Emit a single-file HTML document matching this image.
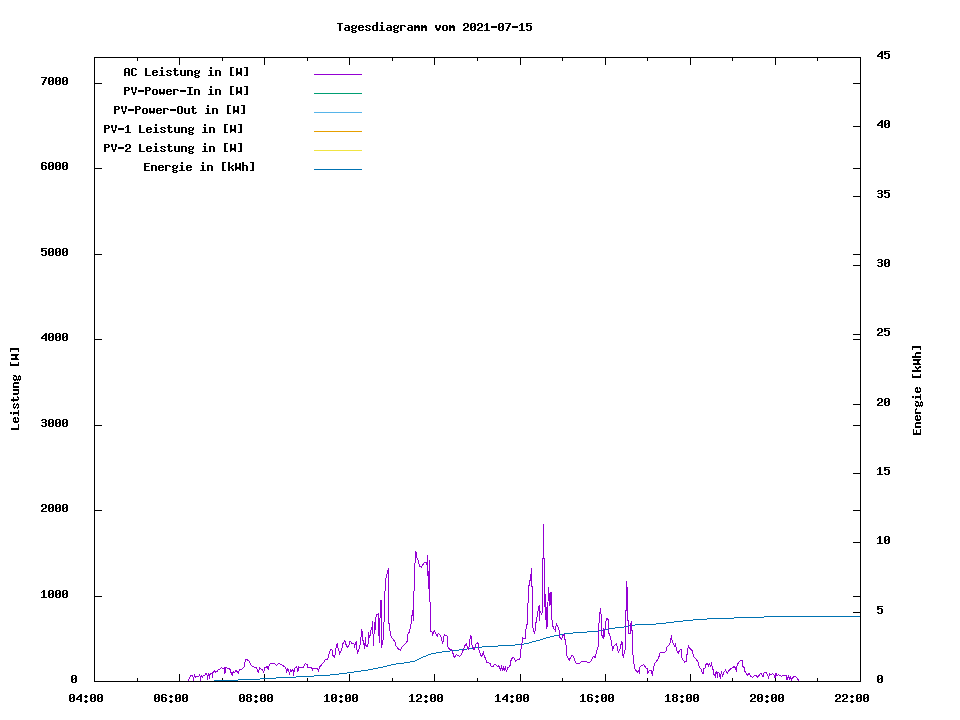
<!DOCTYPE html>
<html><head><meta charset="utf-8"><style>
html,body{margin:0;padding:0;background:#fff;overflow:hidden;}
svg{display:block;}
</style></head><body>
<svg width="960" height="720" viewBox="0 0 960 720" shape-rendering="crispEdges">
<defs>
<path id="g45" d="M1 4h6v1h-6zM1 5h6v1h-6z"/>
<path id="g48" d="M2 1h4v1h-4zM1 2h2v1h-2zM5 2h2v1h-2zM1 3h2v1h-2zM5 3h2v1h-2zM1 4h2v1h-2zM4 4h3v1h-3zM1 5h3v1h-3zM5 5h2v1h-2zM1 6h2v1h-2zM5 6h2v1h-2zM1 7h2v1h-2zM5 7h2v1h-2zM2 8h4v1h-4z"/>
<path id="g49" d="M3 1h2v1h-2zM2 2h3v1h-3zM1 3h1v1h-1zM3 3h2v1h-2zM3 4h2v1h-2zM3 5h2v1h-2zM3 6h2v1h-2zM3 7h2v1h-2zM1 8h6v1h-6z"/>
<path id="g50" d="M2 1h4v1h-4zM1 2h2v1h-2zM5 2h2v1h-2zM1 3h2v1h-2zM5 3h2v1h-2zM5 4h2v1h-2zM3 5h3v1h-3zM2 6h2v1h-2zM1 7h2v1h-2zM1 8h6v1h-6z"/>
<path id="g51" d="M2 1h4v1h-4zM1 2h2v1h-2zM5 2h2v1h-2zM5 3h2v1h-2zM2 4h4v1h-4zM5 5h2v1h-2zM5 6h2v1h-2zM1 7h2v1h-2zM5 7h2v1h-2zM2 8h4v1h-4z"/>
<path id="g52" d="M5 1h2v1h-2zM4 2h3v1h-3zM3 3h4v1h-4zM2 4h2v1h-2zM5 4h2v1h-2zM1 5h2v1h-2zM5 5h2v1h-2zM1 6h6v1h-6zM5 7h2v1h-2zM5 8h2v1h-2z"/>
<path id="g53" d="M1 1h6v1h-6zM1 2h2v1h-2zM1 3h5v1h-5zM1 4h2v1h-2zM5 4h2v1h-2zM5 5h2v1h-2zM5 6h2v1h-2zM1 7h2v1h-2zM5 7h2v1h-2zM2 8h4v1h-4z"/>
<path id="g54" d="M2 1h4v1h-4zM1 2h2v1h-2zM5 2h2v1h-2zM1 3h2v1h-2zM1 4h5v1h-5zM1 5h2v1h-2zM5 5h2v1h-2zM1 6h2v1h-2zM5 6h2v1h-2zM1 7h2v1h-2zM5 7h2v1h-2zM2 8h4v1h-4z"/>
<path id="g55" d="M1 1h6v1h-6zM5 2h2v1h-2zM4 3h2v1h-2zM4 4h2v1h-2zM3 5h2v1h-2zM3 6h2v1h-2zM2 7h2v1h-2zM2 8h2v1h-2z"/>
<path id="g56" d="M2 1h4v1h-4zM1 2h2v1h-2zM5 2h2v1h-2zM1 3h2v1h-2zM5 3h2v1h-2zM2 4h4v1h-4zM1 5h2v1h-2zM5 5h2v1h-2zM1 6h2v1h-2zM5 6h2v1h-2zM1 7h2v1h-2zM5 7h2v1h-2zM2 8h4v1h-4z"/>
<path id="g58" d="M3 2h2v1h-2zM2 3h4v1h-4zM3 4h2v1h-2zM3 7h2v1h-2zM2 8h4v1h-4zM3 9h2v1h-2z"/>
<path id="g65" d="M2 1h4v1h-4zM1 2h2v1h-2zM5 2h2v1h-2zM1 3h2v1h-2zM5 3h2v1h-2zM1 4h2v1h-2zM5 4h2v1h-2zM1 5h6v1h-6zM1 6h2v1h-2zM5 6h2v1h-2zM1 7h2v1h-2zM5 7h2v1h-2zM1 8h2v1h-2zM5 8h2v1h-2z"/>
<path id="g67" d="M2 1h4v1h-4zM1 2h2v1h-2zM5 2h2v1h-2zM1 3h2v1h-2zM1 4h2v1h-2zM1 5h2v1h-2zM1 6h2v1h-2zM1 7h2v1h-2zM5 7h2v1h-2zM2 8h4v1h-4z"/>
<path id="g69" d="M1 1h6v1h-6zM1 2h2v1h-2zM1 3h2v1h-2zM1 4h5v1h-5zM1 5h2v1h-2zM1 6h2v1h-2zM1 7h2v1h-2zM1 8h6v1h-6z"/>
<path id="g73" d="M1 1h6v1h-6zM3 2h2v1h-2zM3 3h2v1h-2zM3 4h2v1h-2zM3 5h2v1h-2zM3 6h2v1h-2zM3 7h2v1h-2zM1 8h6v1h-6z"/>
<path id="g76" d="M1 1h2v1h-2zM1 2h2v1h-2zM1 3h2v1h-2zM1 4h2v1h-2zM1 5h2v1h-2zM1 6h2v1h-2zM1 7h2v1h-2zM1 8h6v1h-6z"/>
<path id="g79" d="M2 1h4v1h-4zM1 2h2v1h-2zM5 2h2v1h-2zM1 3h2v1h-2zM5 3h2v1h-2zM1 4h2v1h-2zM5 4h2v1h-2zM1 5h2v1h-2zM5 5h2v1h-2zM1 6h2v1h-2zM5 6h2v1h-2zM1 7h2v1h-2zM5 7h2v1h-2zM2 8h4v1h-4z"/>
<path id="g80" d="M1 1h5v1h-5zM1 2h2v1h-2zM5 2h2v1h-2zM1 3h2v1h-2zM5 3h2v1h-2zM1 4h5v1h-5zM1 5h2v1h-2zM1 6h2v1h-2zM1 7h2v1h-2zM1 8h2v1h-2z"/>
<path id="g84" d="M1 1h6v1h-6zM3 2h2v1h-2zM3 3h2v1h-2zM3 4h2v1h-2zM3 5h2v1h-2zM3 6h2v1h-2zM3 7h2v1h-2zM3 8h2v1h-2z"/>
<path id="g86" d="M1 1h2v1h-2zM5 1h2v1h-2zM1 2h2v1h-2zM5 2h2v1h-2zM1 3h2v1h-2zM5 3h2v1h-2zM2 4h1v1h-1zM5 4h1v1h-1zM2 5h1v1h-1zM5 5h1v1h-1zM2 6h4v1h-4zM3 7h2v1h-2zM3 8h2v1h-2z"/>
<path id="g87" d="M1 1h2v1h-2zM5 1h2v1h-2zM1 2h2v1h-2zM5 2h2v1h-2zM1 3h2v1h-2zM5 3h2v1h-2zM1 4h2v1h-2zM5 4h2v1h-2zM1 5h6v1h-6zM1 6h6v1h-6zM1 7h2v1h-2zM5 7h2v1h-2zM1 8h1v1h-1zM6 8h1v1h-1z"/>
<path id="g91" d="M2 0h4v1h-4zM2 1h2v1h-2zM2 2h2v1h-2zM2 3h2v1h-2zM2 4h2v1h-2zM2 5h2v1h-2zM2 6h2v1h-2zM2 7h2v1h-2zM2 8h4v1h-4z"/>
<path id="g93" d="M2 0h4v1h-4zM4 1h2v1h-2zM4 2h2v1h-2zM4 3h2v1h-2zM4 4h2v1h-2zM4 5h2v1h-2zM4 6h2v1h-2zM4 7h2v1h-2zM2 8h4v1h-4z"/>
<path id="g97" d="M2 3h4v1h-4zM5 4h2v1h-2zM2 5h5v1h-5zM1 6h2v1h-2zM5 6h2v1h-2zM1 7h2v1h-2zM5 7h2v1h-2zM2 8h5v1h-5z"/>
<path id="g100" d="M5 0h2v1h-2zM5 1h2v1h-2zM5 2h2v1h-2zM2 3h5v1h-5zM1 4h2v1h-2zM5 4h2v1h-2zM1 5h2v1h-2zM5 5h2v1h-2zM1 6h2v1h-2zM5 6h2v1h-2zM1 7h2v1h-2zM5 7h2v1h-2zM2 8h5v1h-5z"/>
<path id="g101" d="M2 3h4v1h-4zM1 4h2v1h-2zM5 4h2v1h-2zM1 5h6v1h-6zM1 6h2v1h-2zM1 7h2v1h-2zM5 7h2v1h-2zM2 8h4v1h-4z"/>
<path id="g103" d="M2 3h3v1h-3zM6 3h1v1h-1zM1 4h2v1h-2zM5 4h2v1h-2zM1 5h2v1h-2zM5 5h2v1h-2zM2 6h4v1h-4zM1 7h2v1h-2zM2 8h4v1h-4zM1 9h2v1h-2zM5 9h2v1h-2zM2 10h4v1h-4z"/>
<path id="g104" d="M1 0h2v1h-2zM1 1h2v1h-2zM1 2h2v1h-2zM1 3h5v1h-5zM1 4h2v1h-2zM5 4h2v1h-2zM1 5h2v1h-2zM5 5h2v1h-2zM1 6h2v1h-2zM5 6h2v1h-2zM1 7h2v1h-2zM5 7h2v1h-2zM1 8h2v1h-2zM5 8h2v1h-2z"/>
<path id="g105" d="M3 0h2v1h-2zM3 1h2v1h-2zM2 3h3v1h-3zM3 4h2v1h-2zM3 5h2v1h-2zM3 6h2v1h-2zM3 7h2v1h-2zM1 8h6v1h-6z"/>
<path id="g107" d="M1 0h2v1h-2zM1 1h2v1h-2zM1 2h2v1h-2zM1 3h2v1h-2zM5 3h2v1h-2zM1 4h2v1h-2zM4 4h2v1h-2zM1 5h4v1h-4zM1 6h2v1h-2zM4 6h2v1h-2zM1 7h2v1h-2zM5 7h2v1h-2zM1 8h2v1h-2zM5 8h2v1h-2z"/>
<path id="g109" d="M1 3h2v1h-2zM4 3h2v1h-2zM1 4h6v1h-6zM1 5h6v1h-6zM1 6h2v1h-2zM5 6h2v1h-2zM1 7h2v1h-2zM5 7h2v1h-2zM1 8h2v1h-2zM5 8h2v1h-2z"/>
<path id="g110" d="M1 3h5v1h-5zM1 4h2v1h-2zM5 4h2v1h-2zM1 5h2v1h-2zM5 5h2v1h-2zM1 6h2v1h-2zM5 6h2v1h-2zM1 7h2v1h-2zM5 7h2v1h-2zM1 8h2v1h-2zM5 8h2v1h-2z"/>
<path id="g111" d="M2 3h4v1h-4zM1 4h2v1h-2zM5 4h2v1h-2zM1 5h2v1h-2zM5 5h2v1h-2zM1 6h2v1h-2zM5 6h2v1h-2zM1 7h2v1h-2zM5 7h2v1h-2zM2 8h4v1h-4z"/>
<path id="g114" d="M1 3h5v1h-5zM1 4h2v1h-2zM5 4h2v1h-2zM1 5h2v1h-2zM1 6h2v1h-2zM1 7h2v1h-2zM1 8h2v1h-2z"/>
<path id="g115" d="M2 3h4v1h-4zM1 4h2v1h-2zM5 4h2v1h-2zM2 5h2v1h-2zM4 6h2v1h-2zM1 7h2v1h-2zM5 7h2v1h-2zM2 8h4v1h-4z"/>
<path id="g116" d="M2 1h2v1h-2zM2 2h2v1h-2zM1 3h5v1h-5zM2 4h2v1h-2zM2 5h2v1h-2zM2 6h2v1h-2zM2 7h2v1h-2zM5 7h2v1h-2zM3 8h3v1h-3z"/>
<path id="g117" d="M1 3h2v1h-2zM5 3h2v1h-2zM1 4h2v1h-2zM5 4h2v1h-2zM1 5h2v1h-2zM5 5h2v1h-2zM1 6h2v1h-2zM5 6h2v1h-2zM1 7h2v1h-2zM5 7h2v1h-2zM2 8h5v1h-5z"/>
<path id="g118" d="M1 3h2v1h-2zM5 3h2v1h-2zM1 4h2v1h-2zM5 4h2v1h-2zM1 5h2v1h-2zM5 5h2v1h-2zM2 6h4v1h-4zM2 7h4v1h-4zM3 8h2v1h-2z"/>
<path id="g119" d="M1 3h2v1h-2zM5 3h2v1h-2zM1 4h2v1h-2zM5 4h2v1h-2zM1 5h2v1h-2zM5 5h2v1h-2zM1 6h6v1h-6zM1 7h6v1h-6zM2 8h1v1h-1zM5 8h1v1h-1z"/>
</defs>
<rect x="0" y="0" width="960" height="720" fill="#fff"/>
<rect x="94" y="57" width="767" height="1" fill="#000"/>
<rect x="94" y="681" width="767" height="1" fill="#000"/>
<rect x="94" y="57" width="1" height="625" fill="#000"/>
<rect x="860" y="57" width="1" height="625" fill="#000"/>
<rect x="94" y="674" width="1" height="8" fill="#000"/>
<rect x="94" y="57" width="1" height="8" fill="#000"/>
<rect x="137" y="678" width="1" height="4" fill="#000"/>
<rect x="137" y="57" width="1" height="4" fill="#000"/>
<rect x="179" y="674" width="1" height="8" fill="#000"/>
<rect x="179" y="57" width="1" height="8" fill="#000"/>
<rect x="222" y="678" width="1" height="4" fill="#000"/>
<rect x="222" y="57" width="1" height="4" fill="#000"/>
<rect x="264" y="674" width="1" height="8" fill="#000"/>
<rect x="264" y="57" width="1" height="8" fill="#000"/>
<rect x="307" y="678" width="1" height="4" fill="#000"/>
<rect x="307" y="57" width="1" height="4" fill="#000"/>
<rect x="349" y="674" width="1" height="8" fill="#000"/>
<rect x="349" y="57" width="1" height="8" fill="#000"/>
<rect x="392" y="678" width="1" height="4" fill="#000"/>
<rect x="392" y="57" width="1" height="4" fill="#000"/>
<rect x="434" y="674" width="1" height="8" fill="#000"/>
<rect x="434" y="57" width="1" height="8" fill="#000"/>
<rect x="477" y="678" width="1" height="4" fill="#000"/>
<rect x="477" y="57" width="1" height="4" fill="#000"/>
<rect x="520" y="674" width="1" height="8" fill="#000"/>
<rect x="520" y="57" width="1" height="8" fill="#000"/>
<rect x="562" y="678" width="1" height="4" fill="#000"/>
<rect x="562" y="57" width="1" height="4" fill="#000"/>
<rect x="605" y="674" width="1" height="8" fill="#000"/>
<rect x="605" y="57" width="1" height="8" fill="#000"/>
<rect x="647" y="678" width="1" height="4" fill="#000"/>
<rect x="647" y="57" width="1" height="4" fill="#000"/>
<rect x="690" y="674" width="1" height="8" fill="#000"/>
<rect x="690" y="57" width="1" height="8" fill="#000"/>
<rect x="732" y="678" width="1" height="4" fill="#000"/>
<rect x="732" y="57" width="1" height="4" fill="#000"/>
<rect x="775" y="674" width="1" height="8" fill="#000"/>
<rect x="775" y="57" width="1" height="8" fill="#000"/>
<rect x="817" y="678" width="1" height="4" fill="#000"/>
<rect x="817" y="57" width="1" height="4" fill="#000"/>
<rect x="860" y="674" width="1" height="8" fill="#000"/>
<rect x="860" y="57" width="1" height="8" fill="#000"/>
<rect x="94" y="681" width="8" height="1" fill="#000"/>
<rect x="853" y="681" width="8" height="1" fill="#000"/>
<rect x="94" y="596" width="8" height="1" fill="#000"/>
<rect x="853" y="596" width="8" height="1" fill="#000"/>
<rect x="94" y="510" width="8" height="1" fill="#000"/>
<rect x="853" y="510" width="8" height="1" fill="#000"/>
<rect x="94" y="425" width="8" height="1" fill="#000"/>
<rect x="853" y="425" width="8" height="1" fill="#000"/>
<rect x="94" y="339" width="8" height="1" fill="#000"/>
<rect x="853" y="339" width="8" height="1" fill="#000"/>
<rect x="94" y="254" width="8" height="1" fill="#000"/>
<rect x="853" y="254" width="8" height="1" fill="#000"/>
<rect x="94" y="168" width="8" height="1" fill="#000"/>
<rect x="853" y="168" width="8" height="1" fill="#000"/>
<rect x="94" y="83" width="8" height="1" fill="#000"/>
<rect x="853" y="83" width="8" height="1" fill="#000"/>
<rect x="853" y="681" width="8" height="1" fill="#000"/>
<rect x="853" y="612" width="8" height="1" fill="#000"/>
<rect x="853" y="542" width="8" height="1" fill="#000"/>
<rect x="853" y="473" width="8" height="1" fill="#000"/>
<rect x="853" y="404" width="8" height="1" fill="#000"/>
<rect x="853" y="334" width="8" height="1" fill="#000"/>
<rect x="853" y="265" width="8" height="1" fill="#000"/>
<rect x="853" y="196" width="8" height="1" fill="#000"/>
<rect x="853" y="126" width="8" height="1" fill="#000"/>
<rect x="853" y="57" width="8" height="1" fill="#000"/>
<rect x="314" y="74" width="48" height="1" fill="#9400d3"/>
<rect x="314" y="93" width="48" height="1" fill="#009e73"/>
<rect x="314" y="112" width="48" height="1" fill="#56b4e9"/>
<rect x="314" y="131" width="48" height="1" fill="#e69f00"/>
<rect x="314" y="150" width="48" height="1" fill="#f0e442"/>
<rect x="314" y="169" width="48" height="1" fill="#0072b2"/>
<rect x="214" y="680" width="24" height="1" fill="#0072b2"/>
<rect x="238" y="679" width="22" height="1" fill="#0072b2"/>
<rect x="260" y="678" width="16" height="1" fill="#0072b2"/>
<rect x="276" y="677" width="20" height="1" fill="#0072b2"/>
<rect x="296" y="676" width="18" height="1" fill="#0072b2"/>
<rect x="314" y="675" width="16" height="1" fill="#0072b2"/>
<rect x="330" y="674" width="9" height="1" fill="#0072b2"/>
<rect x="339" y="673" width="8" height="1" fill="#0072b2"/>
<rect x="347" y="672" width="7" height="1" fill="#0072b2"/>
<rect x="354" y="671" width="7" height="1" fill="#0072b2"/>
<rect x="361" y="670" width="7" height="1" fill="#0072b2"/>
<rect x="368" y="669" width="5" height="1" fill="#0072b2"/>
<rect x="373" y="668" width="5" height="1" fill="#0072b2"/>
<rect x="378" y="667" width="5" height="1" fill="#0072b2"/>
<rect x="383" y="666" width="4" height="1" fill="#0072b2"/>
<rect x="387" y="665" width="4" height="1" fill="#0072b2"/>
<rect x="391" y="664" width="5" height="1" fill="#0072b2"/>
<rect x="396" y="663" width="8" height="1" fill="#0072b2"/>
<rect x="404" y="662" width="6" height="1" fill="#0072b2"/>
<rect x="410" y="661" width="5" height="1" fill="#0072b2"/>
<rect x="415" y="660" width="2" height="1" fill="#0072b2"/>
<rect x="417" y="659" width="2" height="1" fill="#0072b2"/>
<rect x="419" y="658" width="2" height="1" fill="#0072b2"/>
<rect x="421" y="657" width="2" height="1" fill="#0072b2"/>
<rect x="423" y="656" width="3" height="1" fill="#0072b2"/>
<rect x="426" y="655" width="2" height="1" fill="#0072b2"/>
<rect x="428" y="654" width="3" height="1" fill="#0072b2"/>
<rect x="431" y="653" width="5" height="1" fill="#0072b2"/>
<rect x="436" y="652" width="6" height="1" fill="#0072b2"/>
<rect x="442" y="651" width="8" height="1" fill="#0072b2"/>
<rect x="450" y="650" width="9" height="1" fill="#0072b2"/>
<rect x="459" y="649" width="8" height="1" fill="#0072b2"/>
<rect x="467" y="648" width="8" height="1" fill="#0072b2"/>
<rect x="475" y="647" width="7" height="1" fill="#0072b2"/>
<rect x="482" y="646" width="16" height="1" fill="#0072b2"/>
<rect x="498" y="645" width="17" height="1" fill="#0072b2"/>
<rect x="515" y="644" width="9" height="1" fill="#0072b2"/>
<rect x="524" y="643" width="5" height="1" fill="#0072b2"/>
<rect x="529" y="642" width="3" height="1" fill="#0072b2"/>
<rect x="532" y="641" width="4" height="1" fill="#0072b2"/>
<rect x="536" y="640" width="4" height="1" fill="#0072b2"/>
<rect x="540" y="639" width="3" height="1" fill="#0072b2"/>
<rect x="543" y="638" width="3" height="1" fill="#0072b2"/>
<rect x="546" y="637" width="4" height="1" fill="#0072b2"/>
<rect x="550" y="636" width="4" height="1" fill="#0072b2"/>
<rect x="554" y="635" width="5" height="1" fill="#0072b2"/>
<rect x="559" y="634" width="5" height="1" fill="#0072b2"/>
<rect x="564" y="633" width="9" height="1" fill="#0072b2"/>
<rect x="573" y="632" width="14" height="1" fill="#0072b2"/>
<rect x="587" y="631" width="12" height="1" fill="#0072b2"/>
<rect x="599" y="630" width="4" height="1" fill="#0072b2"/>
<rect x="603" y="629" width="5" height="1" fill="#0072b2"/>
<rect x="608" y="628" width="7" height="1" fill="#0072b2"/>
<rect x="615" y="627" width="9" height="1" fill="#0072b2"/>
<rect x="624" y="626" width="4" height="1" fill="#0072b2"/>
<rect x="628" y="625" width="7" height="1" fill="#0072b2"/>
<rect x="635" y="624" width="21" height="1" fill="#0072b2"/>
<rect x="656" y="623" width="10" height="1" fill="#0072b2"/>
<rect x="666" y="622" width="8" height="1" fill="#0072b2"/>
<rect x="674" y="621" width="9" height="1" fill="#0072b2"/>
<rect x="683" y="620" width="10" height="1" fill="#0072b2"/>
<rect x="693" y="619" width="14" height="1" fill="#0072b2"/>
<rect x="707" y="618" width="27" height="1" fill="#0072b2"/>
<rect x="734" y="617" width="30" height="1" fill="#0072b2"/>
<rect x="764" y="616" width="96" height="1" fill="#0072b2"/>
<polyline points="188.3,680.5 189.5,678 190.5,675.5 192.5,675.5 193,677 193.5,680.5 194,677 194.5,675.5 195.5,677.5 197,676 199,676 199.5,675 200.5,676.5 200.5,680.5 201.3,675.2 202.5,677 203.5,675.5 205,675 206,673.5 207,675 207.5,679.5 208,675 208.5,673.5 209.5,679.3 210,674.5 211,673.5 212.3,673.3 212.5,677.7 213,672.5 214.5,671 215.5,672 217.5,671 218.5,669.5 220,669 221.5,667.5 223,668.5 224.5,667.5 225,673.5 226,667 227,668 229,668.5 230,669.5 230.6,671.4 231.6,674 232.2,676 232.8,672.6 233.75,671.7 234.7,672.6 235.6,670.4 236.9,671.4 238.1,673.25 239.4,669.5 240.9,669.2 242.5,668.9 244,666.7 244.7,662.6 245.6,660 246.6,659.2 247.8,660.4 248.75,660.4 250,662.6 251.25,665.75 253.1,666.4 255,667.3 256.9,668.25 258.4,673.25 259.4,667.6 260.9,668.9 262.2,669.2 263.75,673.25 264.4,667.6 266.25,667.3 267.5,666.4 268.4,670.4 269,666.4 270.3,663.6 272.2,663.25 273.75,663.9 275,663.9 276.25,665.4 278.4,663.6 280.6,664.2 282.5,665.4 284.4,666.7 285.9,668 286.6,673.25 287.5,668.9 288.4,669.5 289.5,674.5 290.5,669.5 291.5,671 293,669.5 293.5,676 294.5,668.5 296,667 296.5,666.5 297.5,670 298,671.5 298.5,667 299.5,667.2 303.5,667.2 304.5,665 305.5,663.5 307,664.5 307.5,667 308.5,667.5 311.5,667.5 312.5,669.5 313,668.5 315.5,668.5 317,668.5 318,670 318.5,671 319.5,666.5 321,665.7 322.5,663.5 324,662 325.5,659.5 327.4,659.1 328.6,656.6 329.6,651.25 331.1,649.4 332.4,650.6 333,655.6 334.6,657.5 335.5,651.25 336.4,645.6 337.4,643.1 338,648.1 339.6,653.4 341.75,649.4 343,643.4 344.5,641 345.5,642 346,644.5 347.5,647.5 349,645.5 349.5,641.5 351,642 352,643.5 354,643.5 354.5,647.5 355.5,643 356.5,641 356.5,647 357.5,652.75 358.5,651 359.5,647 360.5,643 361,637 361.5,629.25 362.5,633 362.5,640 363.5,641 364.5,648.5 365.5,637 366,645.5 367,647 368,644 368.5,632.25 369.5,637 370.5,635 371,630 372,627 372.5,621.25 373.5,645.75 374.5,622 374.8,634 375.5,620 376.3,615.3 378.3,613.7 378.5,629.5 379.5,642.75 380.4,600.5 381.5,601 381.3,648 382.3,643.3 383.7,636.7 384.3,609.3 385.4,581.4 386.4,575.4 387.5,572.4 388.4,568.3 388.5,623.3 389.5,624 389.5,630.7 390.5,631.3 390.5,635.3 392.5,638.7 395.5,642.3 395.5,645.3 398.5,649 400.3,650.3 401.3,648 407.3,641.3 408,634 409.3,632 410.7,626 411.3,622 411.7,617.3 412.7,610 413.3,620.7 413.7,600 414.5,578.25 415.4,551.25 416.4,552.75 416.75,557.25 417.9,559.5 418.6,563.25 419.75,566.25 421.25,567.4 424.25,562.5 426.1,562.5 426.9,564.4 427.4,555.4 427.85,571.5 428.4,588.75 429.4,560.25 429.7,601.3 430.7,602.7 430.7,631.3 432,632 432.3,636.3 434.3,630.3 435.3,632.7 437.3,636 438.3,633.3 440.3,635.3 441.3,638 442,641.3 442.3,643.3 443.3,640.7 444.3,634.7 446.7,635.7 447.7,637.3 447.7,646.7 449.3,649 451.3,649.7 452.7,652.7 454.3,657.3 456.3,654.7 459.3,656.3 461.3,655 462.7,651.3 464.7,646 466.3,643.7 468.3,649.3 469.3,646 470.3,635.7 471.7,636.7 472,644.7 474,650.3 475.7,644.7 477.3,642.3 478.3,644 478.7,648.7 480.7,655.3 481.7,656.3 483.3,652.3 484.3,656 485.5,658.7 486.5,661 486.7,662.3 488.3,662.3 490.2,663.7 490.5,665.3 491.5,666.3 493.2,666.3 493.7,665.3 495.5,664.5 496.3,665.3 497.5,666.3 498.5,665.3 499.5,667.7 500.3,670.3 501.3,666.5 502.3,670.3 503.3,667.3 504.3,670.3 505.5,667.3 506.5,671.7 507.5,668 508.7,667.3 509.5,666.3 510.3,665.3 510.5,662 511.3,659.7 512.5,657.7 513.5,657.3 514.5,658.7 515.5,661 517.3,660 519.3,659.3 520.3,657.3 521,649.3 521.7,644.7 522.7,638 525.3,638.3 525.7,633.3 526.3,625.3 527.3,624 527.7,607.3 528.3,599.3 529.3,580 530.7,580 531.3,568 531.7,586 532.5,586 532.5,626 533.5,630 534.5,634 535.5,628 535.5,623 536.5,622 537.5,613 538.5,609 539.3,605 539.3,620.7 540,611 541,613 542,615.3 542.3,559 543.5,558 543.5,524.3 543.5,558 544.5,558.3 544.5,607 545.5,594 545.5,611 546.5,628.7 546.5,611 547.5,604 547.5,627 548.3,587.3 549.3,595 550,606 550.5,592 551.3,592 551.3,614.7 552.3,622.7 553.3,628 555.5,630.7 556.3,624 557.5,625.3 558.5,629 559.5,631 559.5,636.5 560.5,638.5 561.5,639.5 562.5,636 563.5,635 564.5,634.5 564.5,639.5 565.5,640 565.5,644 566,645.3 566.7,655.3 567.7,657.3 569.3,660 571.7,655.3 573.3,656.3 574.7,660 576.3,664 579.7,663.3 581.7,661.7 584,662 586,661.3 589,663 590.7,661.7 592,658.7 593.7,656.3 595,657.7 596.7,651.3 597.7,647.3 598.5,646 598.5,630 599.5,616 600.5,608 601.5,619 601.5,634 602.5,637 603.5,638 603.5,628 604.5,637 605.5,624 606.5,618 607.5,618 608.5,621 608.5,633 609.5,634 610,636 611.3,640.7 612.7,650.7 613.3,646.7 616.3,643.7 617.3,647.3 618.3,652.7 620,648.7 621.7,641.7 622.7,642.7 622.7,655.3 623.7,657.3 624.3,650.7 625.5,649 625.5,611 626.5,610 626.5,581 627.5,592 627.5,620 628.5,620 628.5,633 629.5,633 630,634 630.5,626 631.5,621 631.5,630 632.5,631 633,654.7 633.7,661.3 634.7,668.7 637.3,672.3 638.7,670.7 639.5,674 639.7,667.3 641.7,665.7 643.7,664.3 645.7,667.7 647.7,668.7 647.5,674 649,670.7 651.3,670.7 652.5,676 653.3,668.7 654.7,663.3 656.7,661 658.7,658 659.7,653.3 662,652.3 664.3,653 666.3,650.7 666.7,647.3 669.3,645 670.3,642 671.5,635.3 672,640 674.3,646 675.7,643.7 676.3,650 678.3,653.3 679.7,650 681.3,649.3 681.3,657.3 684.7,662.3 686,661.7 686.7,656 687.7,651.3 688.3,645.3 689.3,648 692.3,650.7 693.7,656.7 695.3,658 698,662 699.3,667 701.5,670 702.5,673.3 703.5,673 703.5,668.5 705,668.5 705.5,665.3 706.7,663.7 707.5,663.7 708.3,666.3 709.3,663.7 710.5,666 711.5,663.7 712.5,668 713.5,671 713.5,674 714.5,675.3 715.3,676.5 716,672.5 716.7,671.5 717.5,677.5 718,672.5 719.3,673 720.3,678.7 721.5,671.5 722.5,676.5 723.5,673 725.5,670.3 727.5,673.5 728.5,670.7 730.3,669.3 732.5,667.5 734.5,666.5 736.5,670.5 737,666 738,663.5 739.5,661.5 740,660.7 741.7,660.3 742.5,661 742.5,666 744,667.5 744.5,671 746,673 747.5,675 749,673.5 750.5,676 752.5,677.5 754,676 756.5,675.5 757.5,677.5 759.5,675 761,673 763,676.5 764,673 766,672.5 767.5,675 768.5,677.5 769.5,674 771,674.5 772.5,673.5 774,675 775,677.5 776,673.5 777,676 778.5,674.5 780,675.5 781.5,676.5 783,675.5 786,675.5 787,680 788.5,676 789.5,679 790.5,677 791.5,680 793,677.5 794.5,676 795.5,676 798.8,680.6" fill="none" stroke="#9400d3" stroke-width="1"/>
<g fill="#000">
<use href="#g84" x="336" y="22"/>
<use href="#g97" x="343" y="22"/>
<use href="#g103" x="350" y="22"/>
<use href="#g101" x="357" y="22"/>
<use href="#g115" x="364" y="22"/>
<use href="#g100" x="371" y="22"/>
<use href="#g105" x="378" y="22"/>
<use href="#g97" x="385" y="22"/>
<use href="#g103" x="392" y="22"/>
<use href="#g114" x="399" y="22"/>
<use href="#g97" x="406" y="22"/>
<use href="#g109" x="413" y="22"/>
<use href="#g109" x="420" y="22"/>
<use href="#g118" x="434" y="22"/>
<use href="#g111" x="441" y="22"/>
<use href="#g109" x="448" y="22"/>
<use href="#g50" x="462" y="22"/>
<use href="#g48" x="469" y="22"/>
<use href="#g50" x="476" y="22"/>
<use href="#g49" x="483" y="22"/>
<use href="#g45" x="490" y="22"/>
<use href="#g48" x="497" y="22"/>
<use href="#g55" x="504" y="22"/>
<use href="#g45" x="511" y="22"/>
<use href="#g49" x="518" y="22"/>
<use href="#g53" x="525" y="22"/>
<use href="#g65" x="123" y="67"/>
<use href="#g67" x="130" y="67"/>
<use href="#g76" x="144" y="67"/>
<use href="#g101" x="151" y="67"/>
<use href="#g105" x="158" y="67"/>
<use href="#g115" x="165" y="67"/>
<use href="#g116" x="172" y="67"/>
<use href="#g117" x="179" y="67"/>
<use href="#g110" x="186" y="67"/>
<use href="#g103" x="193" y="67"/>
<use href="#g105" x="207" y="67"/>
<use href="#g110" x="214" y="67"/>
<use href="#g91" x="228" y="67"/>
<use href="#g87" x="235" y="67"/>
<use href="#g93" x="242" y="67"/>
<use href="#g80" x="123" y="86"/>
<use href="#g86" x="130" y="86"/>
<use href="#g45" x="137" y="86"/>
<use href="#g80" x="144" y="86"/>
<use href="#g111" x="151" y="86"/>
<use href="#g119" x="158" y="86"/>
<use href="#g101" x="165" y="86"/>
<use href="#g114" x="172" y="86"/>
<use href="#g45" x="179" y="86"/>
<use href="#g73" x="186" y="86"/>
<use href="#g110" x="193" y="86"/>
<use href="#g105" x="207" y="86"/>
<use href="#g110" x="214" y="86"/>
<use href="#g91" x="228" y="86"/>
<use href="#g87" x="235" y="86"/>
<use href="#g93" x="242" y="86"/>
<use href="#g80" x="113" y="105"/>
<use href="#g86" x="120" y="105"/>
<use href="#g45" x="127" y="105"/>
<use href="#g80" x="134" y="105"/>
<use href="#g111" x="141" y="105"/>
<use href="#g119" x="148" y="105"/>
<use href="#g101" x="155" y="105"/>
<use href="#g114" x="162" y="105"/>
<use href="#g45" x="169" y="105"/>
<use href="#g79" x="176" y="105"/>
<use href="#g117" x="183" y="105"/>
<use href="#g116" x="190" y="105"/>
<use href="#g105" x="204" y="105"/>
<use href="#g110" x="211" y="105"/>
<use href="#g91" x="225" y="105"/>
<use href="#g87" x="232" y="105"/>
<use href="#g93" x="239" y="105"/>
<use href="#g80" x="103" y="124"/>
<use href="#g86" x="110" y="124"/>
<use href="#g45" x="117" y="124"/>
<use href="#g49" x="124" y="124"/>
<use href="#g76" x="138" y="124"/>
<use href="#g101" x="145" y="124"/>
<use href="#g105" x="152" y="124"/>
<use href="#g115" x="159" y="124"/>
<use href="#g116" x="166" y="124"/>
<use href="#g117" x="173" y="124"/>
<use href="#g110" x="180" y="124"/>
<use href="#g103" x="187" y="124"/>
<use href="#g105" x="201" y="124"/>
<use href="#g110" x="208" y="124"/>
<use href="#g91" x="222" y="124"/>
<use href="#g87" x="229" y="124"/>
<use href="#g93" x="236" y="124"/>
<use href="#g80" x="103" y="143"/>
<use href="#g86" x="110" y="143"/>
<use href="#g45" x="117" y="143"/>
<use href="#g50" x="124" y="143"/>
<use href="#g76" x="138" y="143"/>
<use href="#g101" x="145" y="143"/>
<use href="#g105" x="152" y="143"/>
<use href="#g115" x="159" y="143"/>
<use href="#g116" x="166" y="143"/>
<use href="#g117" x="173" y="143"/>
<use href="#g110" x="180" y="143"/>
<use href="#g103" x="187" y="143"/>
<use href="#g105" x="201" y="143"/>
<use href="#g110" x="208" y="143"/>
<use href="#g91" x="222" y="143"/>
<use href="#g87" x="229" y="143"/>
<use href="#g93" x="236" y="143"/>
<use href="#g69" x="143" y="162"/>
<use href="#g110" x="150" y="162"/>
<use href="#g101" x="157" y="162"/>
<use href="#g114" x="164" y="162"/>
<use href="#g103" x="171" y="162"/>
<use href="#g105" x="178" y="162"/>
<use href="#g101" x="185" y="162"/>
<use href="#g105" x="199" y="162"/>
<use href="#g110" x="206" y="162"/>
<use href="#g91" x="220" y="162"/>
<use href="#g107" x="227" y="162"/>
<use href="#g87" x="234" y="162"/>
<use href="#g104" x="241" y="162"/>
<use href="#g93" x="248" y="162"/>
<use href="#g48" x="70" y="674"/>
<use href="#g49" x="40" y="589"/>
<use href="#g48" x="47" y="589"/>
<use href="#g48" x="54" y="589"/>
<use href="#g48" x="61" y="589"/>
<use href="#g50" x="40" y="503"/>
<use href="#g48" x="47" y="503"/>
<use href="#g48" x="54" y="503"/>
<use href="#g48" x="61" y="503"/>
<use href="#g51" x="40" y="418"/>
<use href="#g48" x="47" y="418"/>
<use href="#g48" x="54" y="418"/>
<use href="#g48" x="61" y="418"/>
<use href="#g52" x="40" y="332"/>
<use href="#g48" x="47" y="332"/>
<use href="#g48" x="54" y="332"/>
<use href="#g48" x="61" y="332"/>
<use href="#g53" x="40" y="247"/>
<use href="#g48" x="47" y="247"/>
<use href="#g48" x="54" y="247"/>
<use href="#g48" x="61" y="247"/>
<use href="#g54" x="40" y="161"/>
<use href="#g48" x="47" y="161"/>
<use href="#g48" x="54" y="161"/>
<use href="#g48" x="61" y="161"/>
<use href="#g55" x="40" y="76"/>
<use href="#g48" x="47" y="76"/>
<use href="#g48" x="54" y="76"/>
<use href="#g48" x="61" y="76"/>
<use href="#g48" x="876" y="674"/>
<use href="#g53" x="876" y="605"/>
<use href="#g49" x="876" y="535"/>
<use href="#g48" x="883" y="535"/>
<use href="#g49" x="876" y="466"/>
<use href="#g53" x="883" y="466"/>
<use href="#g50" x="876" y="397"/>
<use href="#g48" x="883" y="397"/>
<use href="#g50" x="876" y="327"/>
<use href="#g53" x="883" y="327"/>
<use href="#g51" x="876" y="258"/>
<use href="#g48" x="883" y="258"/>
<use href="#g51" x="876" y="189"/>
<use href="#g53" x="883" y="189"/>
<use href="#g52" x="876" y="119"/>
<use href="#g48" x="883" y="119"/>
<use href="#g52" x="876" y="50"/>
<use href="#g53" x="883" y="50"/>
<use href="#g48" x="68" y="693"/>
<use href="#g52" x="75" y="693"/>
<use href="#g58" x="82" y="693"/>
<use href="#g48" x="89" y="693"/>
<use href="#g48" x="96" y="693"/>
<use href="#g48" x="153" y="693"/>
<use href="#g54" x="160" y="693"/>
<use href="#g58" x="167" y="693"/>
<use href="#g48" x="174" y="693"/>
<use href="#g48" x="181" y="693"/>
<use href="#g48" x="238" y="693"/>
<use href="#g56" x="245" y="693"/>
<use href="#g58" x="252" y="693"/>
<use href="#g48" x="259" y="693"/>
<use href="#g48" x="266" y="693"/>
<use href="#g49" x="323" y="693"/>
<use href="#g48" x="330" y="693"/>
<use href="#g58" x="337" y="693"/>
<use href="#g48" x="344" y="693"/>
<use href="#g48" x="351" y="693"/>
<use href="#g49" x="408" y="693"/>
<use href="#g50" x="415" y="693"/>
<use href="#g58" x="422" y="693"/>
<use href="#g48" x="429" y="693"/>
<use href="#g48" x="436" y="693"/>
<use href="#g49" x="494" y="693"/>
<use href="#g52" x="501" y="693"/>
<use href="#g58" x="508" y="693"/>
<use href="#g48" x="515" y="693"/>
<use href="#g48" x="522" y="693"/>
<use href="#g49" x="579" y="693"/>
<use href="#g54" x="586" y="693"/>
<use href="#g58" x="593" y="693"/>
<use href="#g48" x="600" y="693"/>
<use href="#g48" x="607" y="693"/>
<use href="#g49" x="664" y="693"/>
<use href="#g56" x="671" y="693"/>
<use href="#g58" x="678" y="693"/>
<use href="#g48" x="685" y="693"/>
<use href="#g48" x="692" y="693"/>
<use href="#g50" x="749" y="693"/>
<use href="#g48" x="756" y="693"/>
<use href="#g58" x="763" y="693"/>
<use href="#g48" x="770" y="693"/>
<use href="#g48" x="777" y="693"/>
<use href="#g50" x="834" y="693"/>
<use href="#g50" x="841" y="693"/>
<use href="#g58" x="848" y="693"/>
<use href="#g48" x="855" y="693"/>
<use href="#g48" x="862" y="693"/>
<use href="#g76" transform="matrix(0,-1,1,0,10,431)"/>
<use href="#g101" transform="matrix(0,-1,1,0,10,424)"/>
<use href="#g105" transform="matrix(0,-1,1,0,10,417)"/>
<use href="#g115" transform="matrix(0,-1,1,0,10,410)"/>
<use href="#g116" transform="matrix(0,-1,1,0,10,403)"/>
<use href="#g117" transform="matrix(0,-1,1,0,10,396)"/>
<use href="#g110" transform="matrix(0,-1,1,0,10,389)"/>
<use href="#g103" transform="matrix(0,-1,1,0,10,382)"/>
<use href="#g91" transform="matrix(0,-1,1,0,10,368)"/>
<use href="#g87" transform="matrix(0,-1,1,0,10,361)"/>
<use href="#g93" transform="matrix(0,-1,1,0,10,354)"/>
<use href="#g69" transform="matrix(0,-1,1,0,912,436)"/>
<use href="#g110" transform="matrix(0,-1,1,0,912,429)"/>
<use href="#g101" transform="matrix(0,-1,1,0,912,422)"/>
<use href="#g114" transform="matrix(0,-1,1,0,912,415)"/>
<use href="#g103" transform="matrix(0,-1,1,0,912,408)"/>
<use href="#g105" transform="matrix(0,-1,1,0,912,401)"/>
<use href="#g101" transform="matrix(0,-1,1,0,912,394)"/>
<use href="#g91" transform="matrix(0,-1,1,0,912,380)"/>
<use href="#g107" transform="matrix(0,-1,1,0,912,373)"/>
<use href="#g87" transform="matrix(0,-1,1,0,912,366)"/>
<use href="#g104" transform="matrix(0,-1,1,0,912,359)"/>
<use href="#g93" transform="matrix(0,-1,1,0,912,352)"/>
</g>
</svg></body></html>
